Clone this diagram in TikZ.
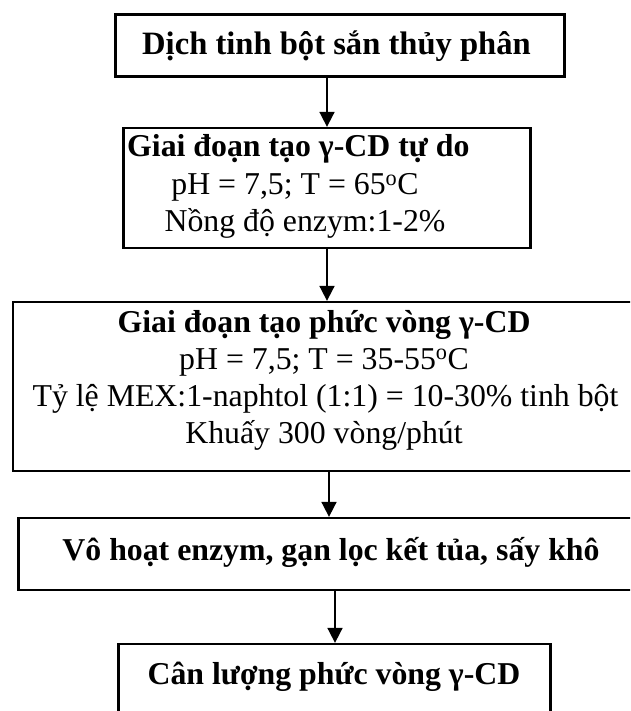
\documentclass[tikz,border=0pt]{standalone}
\usepackage{fontspec}
\setmainfont{Liberation Serif}
\usetikzlibrary{arrows.meta}
\begin{document}
\begin{tikzpicture}[x=1pt,y=-1pt,
  box/.style={draw=black,line width=2.3pt,rectangle,inner sep=0pt,anchor=center},
  txt/.style={inner sep=0pt,font=\fontsize{31.8}{37}\selectfont},
  btxt/.style={inner sep=0pt,font=\fontsize{31.8}{37}\selectfont\bfseries},
  arr/.style={line width=1.8pt,-{Triangle[width=15pt,length=15pt]}}]
\useasboundingbox (0,0) rectangle (630,711);
\fill[white] (0,0) rectangle (630,711);
\clip (0,0) rectangle (630,711);
% boxes
\node[box,minimum width=449pt,minimum height=62pt] (b1) at (340,45.5) {};
\node[box,minimum width=407pt,minimum height=120pt] (b2) at (327,188) {};
\node[box,minimum width=623pt,minimum height=169pt] (b3) at (324.5,386.5) {};
\node[box,minimum width=625.5pt,minimum height=72pt] (b4) at (331.25,554) {};
\node[box,minimum width=432pt,minimum height=72pt] (b5) at (334.5,680) {};
% texts
\node[btxt,anchor=base,font=\fontsize{32.6}{37}\selectfont\bfseries] (t1) at (336.5,55) {Dịch tinh bột sắn thủy phân};
\node[btxt,anchor=base west] (t21) at (127,157) {Giai đoạn tạo γ-CD tự do};
\node[txt,anchor=base] (t22) at (295,195) {pH = 7,5; T = 65\textsuperscript{o}C};
\node[txt,anchor=base] (t23) at (305,232) {Nồng độ enzym:1-2\%};
\node[btxt,anchor=base] (t31) at (324,332) {Giai đoạn tạo phức vòng γ-CD};
\node[txt,anchor=base] (t32) at (324,369) {pH = 7,5; T = 35-55\textsuperscript{o}C};
\node[txt,anchor=base] (t33) at (325.5,406) {Tỷ lệ MEX:1-naphtol (1:1) = 10-30\% tinh bột};
\node[txt,anchor=base] (t34) at (324,443) {Khuấy 300 vòng/phút};
\node[btxt,anchor=base] (t4) at (331,560) {Vô hoạt enzym, gạn lọc kết tủa, sấy khô};
\node[btxt,anchor=base] (t5) at (334,684) {Cân lượng phức vòng γ-CD};
% arrow x positions
\coordinate (x1) at (327,0);
\coordinate (x2) at (327,0);
\coordinate (x3) at (329,0);
\coordinate (x4) at (335,0);
\draw[arr] (b1.south -| x1) -- (b2.north -| x1);
\draw[arr] (b2.south -| x2) -- (b3.north -| x2);
\draw[arr] (b3.south -| x3) -- (b4.north -| x3);
\draw[arr] (b4.south -| x4) -- (b5.north -| x4);
\end{tikzpicture}
\end{document}
